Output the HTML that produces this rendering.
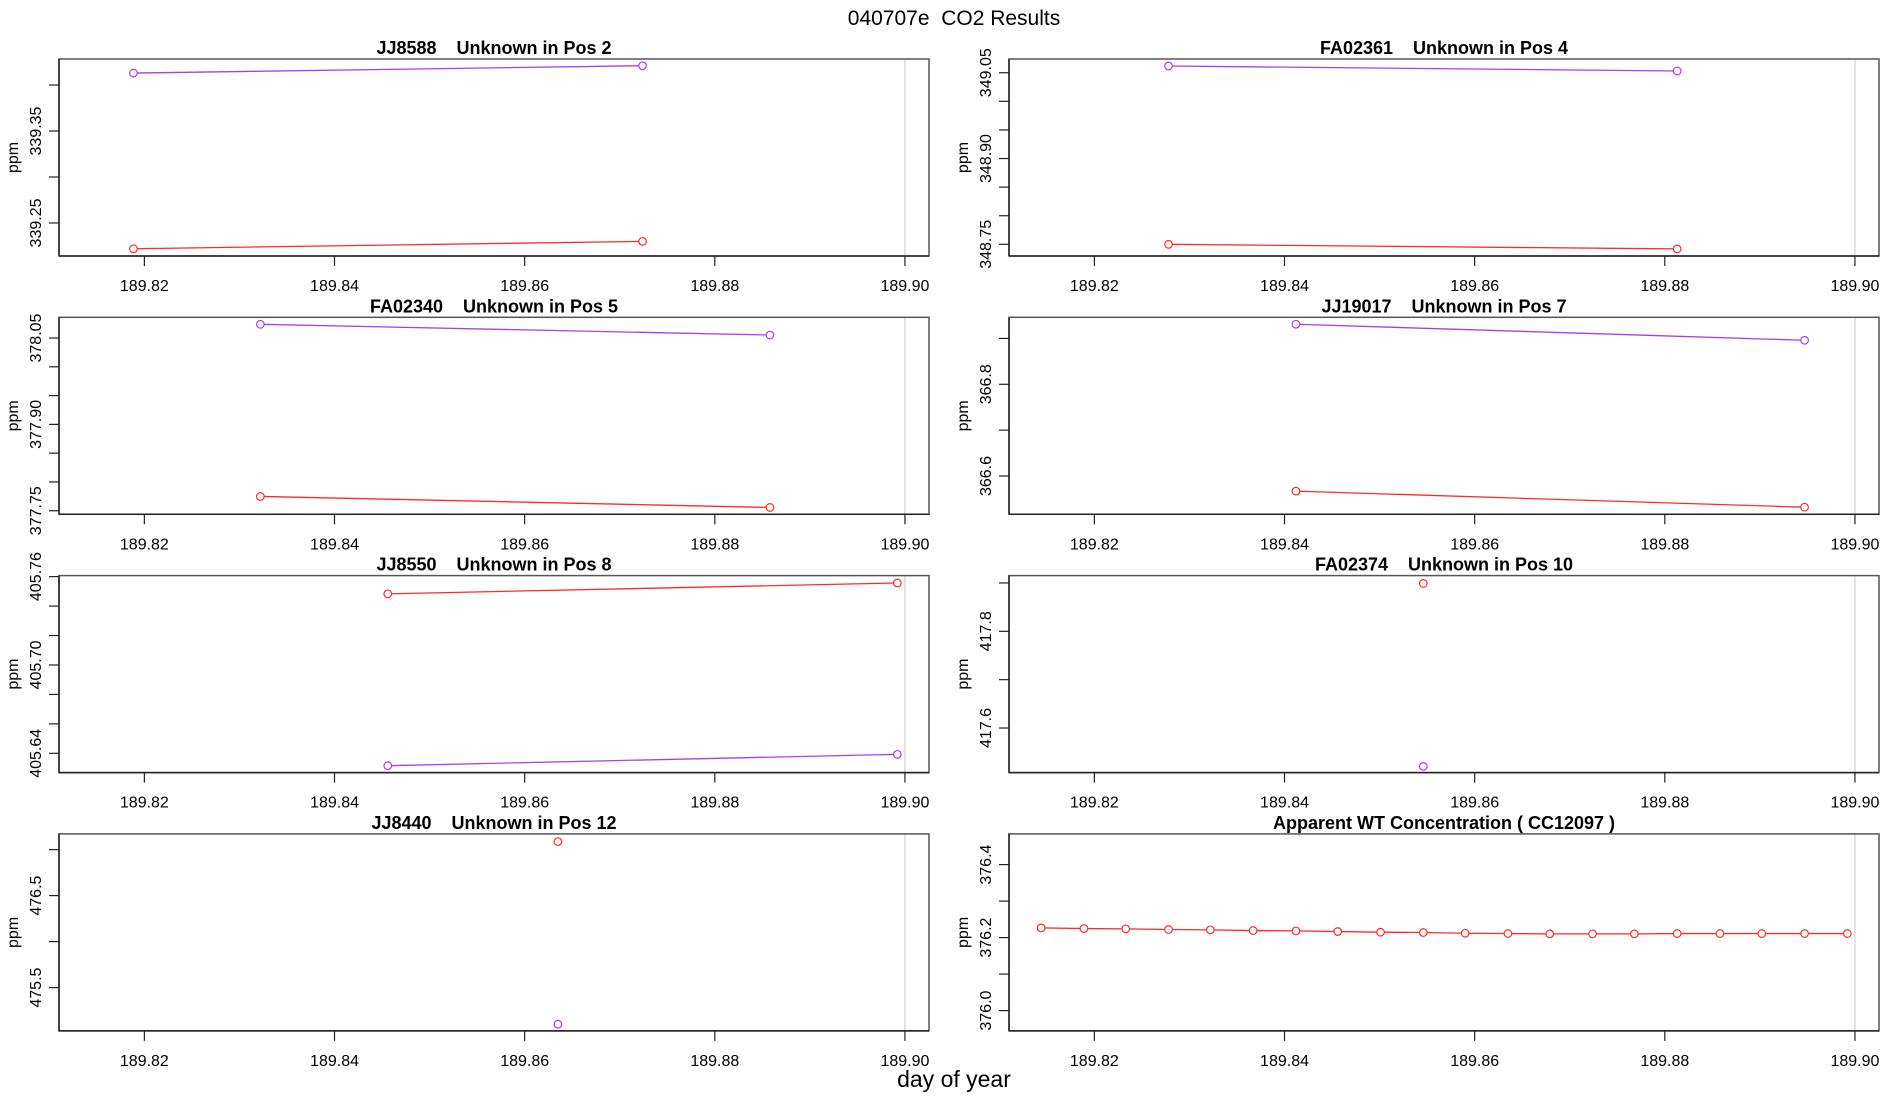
<!DOCTYPE html>
<html><head><meta charset="utf-8"><style>
html,body{margin:0;padding:0;background:#fff;}
svg{display:block;font-family:"Liberation Sans",sans-serif;}
svg text{white-space:pre;}
</style></head><body>
<svg id="chart" width="1900" height="1100" viewBox="0 0 1900 1100">
<text x="954" y="25" font-size="21" text-anchor="middle">040707e  CO2 Results</text>
<text x="954" y="1087" font-size="23" text-anchor="middle">day of year</text>
</svg>
<script>
const titles = ["JJ8588    Unknown in Pos 2","FA02361    Unknown in Pos 4","FA02340    Unknown in Pos 5","JJ19017    Unknown in Pos 7","JJ8550    Unknown in Pos 8","FA02374    Unknown in Pos 10","JJ8440    Unknown in Pos 12","Apparent WT Concentration ( CC12097 )"];
const xDomain = [189.81102, 189.90253];
const xTicks = [189.82, 189.84, 189.86, 189.88, 189.90];
const xTickLabels = ["189.82","189.84","189.86","189.88","189.90"];
const yDomains = [[339.2141,339.4283],[348.7296,349.0740],[377.7438,378.0860],[366.5165,366.9461],[405.6269,405.7607],[417.5078,417.9152],[475.0293,477.1707],[375.9444,376.4841]];
const yTicks = [[339.25,339.30,339.35,339.40],[348.75,348.80,348.85,348.90,348.95,349.00,349.05],[377.75,377.80,377.85,377.90,377.95,378.00,378.05],[366.6,366.7,366.8,366.9],[405.64,405.66,405.68,405.70,405.72,405.74,405.76],[417.6,417.7,417.8,417.9],[475.5,476.0,476.5,477.0],[376.0,376.1,376.2,376.3,376.4]];
const yLabelVals = [[339.25,339.35],[348.75,348.90,349.05],[377.75,377.90,378.05],[366.6,366.8],[405.64,405.70,405.76],[417.6,417.8],[475.5,476.5],[376.0,376.2,376.4]];
const yLabelText = [["339.25","339.35"],["348.75","348.90","349.05"],["377.75","377.90","378.05"],["366.6","366.8"],["405.64","405.70","405.76"],["417.6","417.8"],["475.5","476.5"],["376.0","376.2","376.4"]];
const redX = [[189.81885,189.8724],[189.8278,189.8813],[189.8322,189.8858],[189.8412,189.8947],[189.8456,189.8992],[189.8546],[189.8635],
 [189.8144,189.8189,189.8233,189.8278,189.8322,189.8367,189.8412,189.8456,189.8501,189.8546,189.8590,189.8635,189.8679,189.8724,189.8768,189.8813,189.8858,189.8902,189.8947,189.8992]];
const redY = [[339.222,339.230],[348.750,348.742],[377.7748,377.7557],[366.567,366.532],[405.7483,405.7557],[417.899],[477.087],
 [376.2266,376.2248,376.2239,376.2221,376.2212,376.2193,376.2184,376.2166,376.2148,376.2139,376.2120,376.2111,376.2102,376.2102,376.2102,376.2111,376.2111,376.2111,376.2111,376.2111]];
const purpleX = [[189.81885,189.8724],[189.8278,189.8813],[189.8322,189.8858],[189.8412,189.8947],[189.8456,189.8992],[189.8546],[189.8635],[]];
const purpleY = [[339.413,339.421],[349.0617,349.053],[378.0738,378.0552],[366.931,366.896],[405.6316,405.6393],[417.5206],[475.102],[]];

const NS = "http://www.w3.org/2000/svg";
const svg = document.getElementById("chart");
function mk(tag, attrs, parent){ const e=document.createElementNS(NS,tag); for(const k in attrs) e.setAttribute(k,attrs[k]); (parent||svg).appendChild(e); return e; }
const W=870, H=197;
for(let p=0;p<8;p++){
  const col=p%2, row=Math.floor(p/2);
  const L = col===0 ? 59 : 1009;
  const T = 59 + row*258.3;
  const g = mk("g",{});
  
  
  const xs = d => L + (d - xDomain[0])/(xDomain[1]-xDomain[0])*W;
  const yd = yDomains[p];
  const ys = v => T + H - (v - yd[0])/(yd[1]-yd[0])*H;
  const gl = mk("line",{x1:xs(189.90),x2:xs(189.90),y1:T,y2:T+H,stroke:"#d0d0d0","stroke-width":1.2},g);
  
  
  const box = mk("rect",{x:L,y:T,width:W,height:H,fill:"none",stroke:"#555","stroke-width":1.5},g);
  
  
  const ax = mk("line",{x1:L,x2:L+W,y1:T+H,y2:T+H,stroke:"#222","stroke-width":1.5},g);
  
  
  const ay = mk("line",{x1:L,x2:L,y1:T,y2:T+H,stroke:"#222","stroke-width":1.5},g);
  
  
  const tt = mk("text",{x:L+W/2,y:T-5,"font-size":18,"font-weight":"bold","text-anchor":"middle"},g);
  tt.textContent = titles[p];
  
  
  xTicks.forEach((d,i)=>{
    const tl = mk("line",{x1:xs(d),x2:xs(d),y1:T+H,y2:T+H+10,stroke:"#222","stroke-width":1.2},g);
    
    
    const lb = mk("text",{x:xs(d),y:T+H+35,"font-size":16,"text-anchor":"middle"},g);
    lb.textContent = xTickLabels[i];
    
    
  });
  yTicks[p].forEach(v=>{
    const tl = mk("line",{x1:L-10,x2:L,y1:ys(v),y2:ys(v),stroke:"#222","stroke-width":1.2},g);
    
    
  });
  yLabelVals[p].forEach((v,i)=>{
    const y=ys(v);
    const lb = mk("text",{x:0,y:0,"font-size":16,"text-anchor":"middle",transform:`translate(${L-18},${y}) rotate(-90)`},g);
    lb.textContent = yLabelText[p][i];
    
    
  });
  const pl = mk("text",{x:0,y:0,"font-size":16,"text-anchor":"middle",transform:`translate(${L-41},${T+H/2}) rotate(-90)`},g);
  pl.textContent = "ppm";
  
  
  const series = [[redX[p],redY[p],"#ff2a2a","red-series"],[purpleX[p],purpleY[p],"#a83cf0","purple-series"]];
  series.forEach(s=>{
    const [sx,sy,c,nm]=s;
    if(!sx.length) return;
    const sg = mk("g",{},g);
    
    
    if(sx.length>1){
      const pts = sx.map((d,i)=>xs(d)+","+ys(sy[i])).join(" ");
      const ln = mk("polyline",{points:pts,fill:"none",stroke:c,"stroke-width":1.3},sg);
      
      
    }
    sx.forEach((d,i)=>{
      const ci = mk("circle",{cx:xs(d),cy:ys(sy[i]),r:3.8,fill:"#fff",stroke:c,"stroke-width":1.2},sg);
      
      
    });
  });
}
</script>
</body></html>
